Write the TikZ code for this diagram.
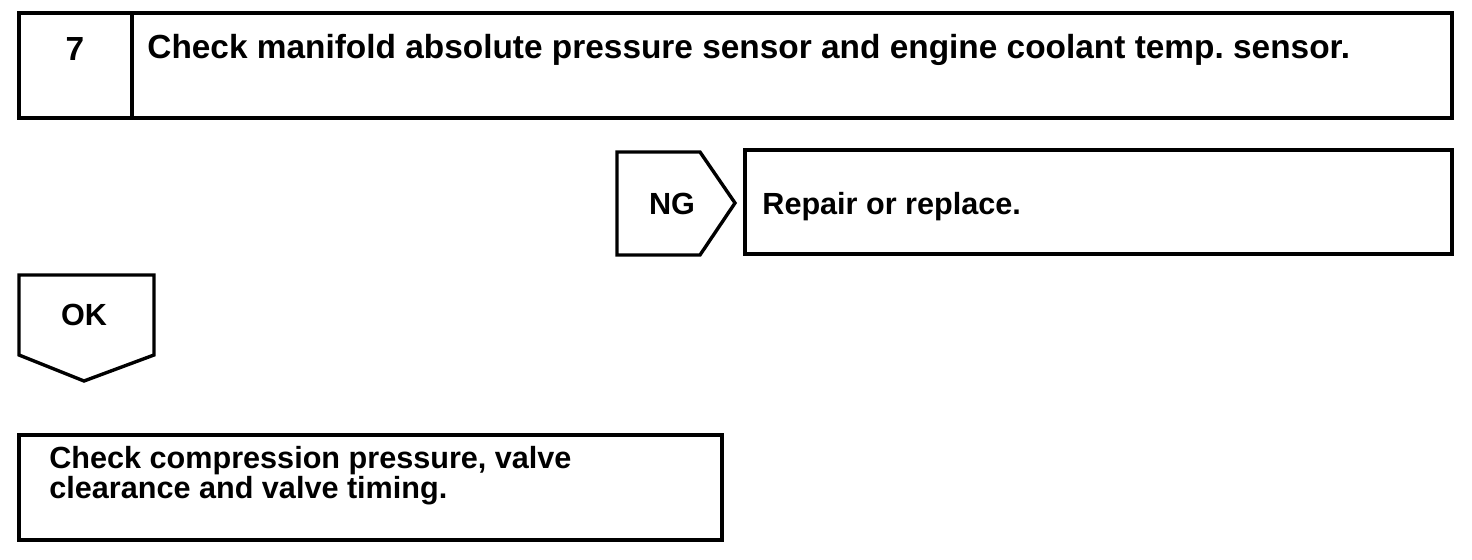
\documentclass[tikz,border=0pt]{standalone}
\usepackage{fontspec}
\setmainfont{Liberation Sans}
\frenchspacing
\usetikzlibrary{positioning}
\tikzset{
  box/.style={draw, line width=1.7pt, line join=miter},
  headtext/.style={font=\fontsize{16.7}{20}\selectfont\bfseries, inner sep=0pt},
  bodytext/.style={font=\fontsize{15.3}{15}\selectfont\bfseries, inner sep=0pt},
}

\begin{document}
\begin{tikzpicture}[x=0.5pt,y=-0.5pt]
\useasboundingbox (0,0) rectangle (1472,560);
% step 7 header
\draw[box] (19,13) rectangle (1452,118);
\draw[box] (132,13) -- (132,118);
\node[headtext, anchor=base] (num) at (75,61) {7};
\node[headtext, anchor=base west] (title) at (147,59)
  {Check manifold absolute pressure sensor and engine coolant temp. sensor.};

% NG branch
\draw[box] (617,152) -- (700,152) -- (735,203) -- (700,255) -- (617,255) -- cycle;
\node[bodytext, anchor=base] (ng) at (672,215) {NG};
\draw[box] (745,150) rectangle (1452,254);
\node[bodytext, anchor=base west] (repair) at (762,215) {Repair or replace.};

% OK branch
\draw[box] (19,275) -- (154,275) -- (154,355) -- (84,381) -- (19,355) -- cycle;
\node[bodytext, anchor=base] (ok) at (84,326) {OK};
\draw[box] (19,435) rectangle (722,540);
\node[bodytext, anchor=base west] (check1) at (49,469) {Check compression pressure, valve};
\node[bodytext, anchor=base west] (check2) at (49,499) {clearance and valve timing.};
\end{tikzpicture}
\end{document}
